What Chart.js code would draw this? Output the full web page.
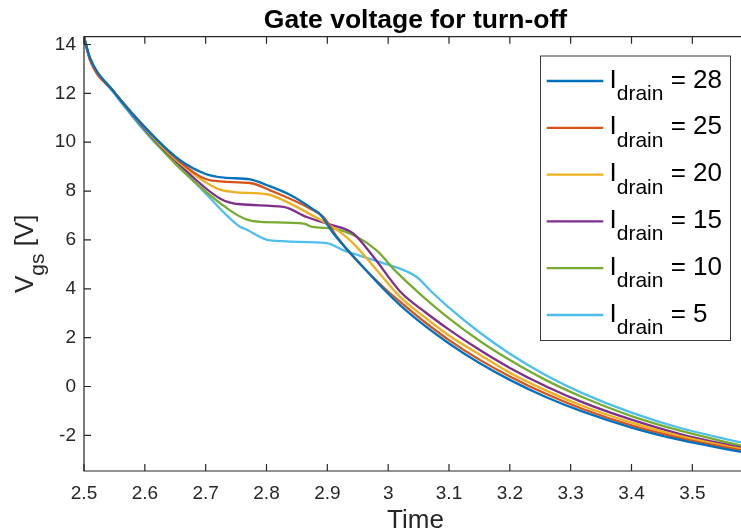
<!DOCTYPE html>
<html><head><meta charset="utf-8">
<script src="https://cdn.jsdelivr.net/npm/chart.js@4/dist/chart.umd.min.js"></script>
<style>html,body{margin:0;padding:0;background:#fff;} canvas{display:block;}</style>
</head><body>
<canvas id="c" width="741" height="532"></canvas>
<script>
// ---- data ----
const seriesLabels = ['28', '25', '20', '15', '10', '5'];
const seriesColors = ['#0072BD', '#D95319', '#EDB120', '#7E2F8E', '#77AC30', '#4DBEEE'];

const time28 = [2.5, 2.51, 2.548, 2.612, 2.658, 2.70, 2.73, 2.773, 2.80, 2.84, 2.877, 2.888, 2.91, 2.949, 2.992, 3.02, 3.06, 3.10, 3.15, 3.20, 3.26, 3.32, 3.40, 3.48, 3.58];
const vgs28  = [14.3, 13.45, 12.1, 10.3, 9.26, 8.7, 8.55, 8.48, 8.25, 7.83, 7.25, 7.05, 6.26, 5.16, 4.0, 3.32, 2.49, 1.76, 0.96, 0.27, -0.44, -1.03, -1.68, -2.19, -2.68];

const time25 = [2.5, 2.51, 2.548, 2.612, 2.658, 2.708, 2.773, 2.806, 2.872, 2.895, 2.916, 2.943, 2.998, 3.02, 3.06, 3.10, 3.15, 3.20, 3.26, 3.32, 3.40, 3.48, 3.58];
const vgs25  = [14.3, 13.35, 12.1, 10.3, 9.19, 8.44, 8.33, 8.03, 7.28, 6.9, 6.12, 5.3, 3.93, 3.46, 2.64, 1.90, 1.10, 0.41, -0.31, -0.92, -1.59, -2.11, -2.62];

const time20 = [2.5, 2.51, 2.548, 2.612, 2.658, 2.719, 2.746, 2.801, 2.828, 2.894, 2.921, 2.943, 2.98, 3.02, 3.06, 3.10, 3.15, 3.20, 3.26, 3.32, 3.40, 3.48, 3.58];
const vgs20  = [14.3, 13.4, 12.1, 10.25, 9.13, 8.1, 7.96, 7.87, 7.62, 6.74, 6.32, 5.85, 4.80, 3.66, 2.84, 2.09, 1.31, 0.56, -0.17, -0.80, -1.48, -2.03, -2.56];

const time15 = [2.5, 2.51, 2.548, 2.612, 2.658, 2.724, 2.757, 2.828, 2.866, 2.899, 2.927, 2.943, 2.976, 3.02, 3.06, 3.10, 3.15, 3.20, 3.26, 3.32, 3.40, 3.48, 3.58];
const vgs15  = [14.3, 13.4, 12.1, 10.2, 9.06, 7.69, 7.46, 7.35, 6.94, 6.67, 6.46, 6.26, 5.3, 3.88, 3.06, 2.33, 1.50, 0.76, 0.0, -0.65, -1.36, -1.95, -2.51];

const time10 = [2.5, 2.51, 2.548, 2.612, 2.658, 2.74, 2.768, 2.79, 2.861, 2.875, 2.91, 2.949, 2.981, 3.014, 3.06, 3.10, 3.15, 3.20, 3.26, 3.32, 3.40, 3.48, 3.58];
const vgs10  = [14.3, 13.4, 12.1, 10.15, 8.92, 7.21, 6.83, 6.74, 6.67, 6.53, 6.46, 6.12, 5.57, 4.68, 3.62, 2.79, 1.87, 1.08, 0.25, -0.44, -1.21, -1.81, -2.42];

const time5  = [2.5, 2.51, 2.548, 2.612, 2.664, 2.70, 2.757, 2.765, 2.806, 2.899, 2.927, 2.987, 3.047, 3.07, 3.10, 3.15, 3.20, 3.26, 3.32, 3.40, 3.48, 3.58];
const vgs5   = [14.3, 13.4, 12.05, 10.1, 8.85, 7.9, 6.53, 6.45, 5.98, 5.87, 5.57, 5.09, 4.48, 3.91, 3.23, 2.22, 1.34, 0.45, -0.28, -1.07, -1.70, -2.29];

const xTicks = [2.5, 2.6, 2.7, 2.8, 2.9, 3.0, 3.1, 3.2, 3.3, 3.4, 3.5];
const yTicks = [-2, 0, 2, 4, 6, 8, 10, 12, 14];

const titleText = 'Gate voltage for turn-off';
const xTitle = 'Time';

// ---- build chart ----
const FONT = "'Liberation Sans', Arial, Helvetica, sans-serif";
const TXT = '#262626';
const times = [time28, time25, time20, time15, time10, time5];
const values = [vgs28, vgs25, vgs20, vgs15, vgs10, vgs5];

const datasets = seriesLabels.map((lab, i) => ({
  label: lab,
  data: times[i].map((t, k) => ({x: t, y: values[i][k]})),
  borderColor: seriesColors[i],
  backgroundColor: seriesColors[i],
  borderWidth: 2.3,
  pointRadius: 0,
  fill: false,
  cubicInterpolationMode: 'monotone'
}));

function drawSub(ctx, x, y, main, sub, rest, size, subSize, shift) {
  ctx.font = size + 'px ' + FONT;
  ctx.fillText(main, x, y);
  let w = ctx.measureText(main).width;
  ctx.font = subSize + 'px ' + FONT;
  ctx.fillText(sub, x + w, y + shift);
  w += ctx.measureText(sub).width;
  ctx.font = size + 'px ' + FONT;
  ctx.fillText(rest, x + w, y);
}
function subWidth(ctx, main, sub, rest, size, subSize) {
  ctx.font = size + 'px ' + FONT;
  let w = ctx.measureText(main).width + ctx.measureText(rest).width;
  ctx.font = subSize + 'px ' + FONT;
  return w + ctx.measureText(sub).width;
}

const decor = {
  id: 'decor',
  afterDraw(chart) {
    const ctx = chart.ctx, a = chart.chartArea, xs = chart.scales.x, ys = chart.scales.y;
    ctx.save();
    // axes frame
    ctx.strokeStyle = TXT;
    ctx.lineWidth = 1.2;
    ctx.beginPath();
    ctx.moveTo(a.right + 2, a.top); ctx.lineTo(a.left, a.top);
    ctx.lineTo(a.left, a.bottom); ctx.lineTo(a.right + 2, a.bottom);
    ctx.stroke();
    // inward ticks
    ctx.beginPath();
    xTicks.forEach(v => {
      const p = xs.getPixelForValue(v);
      ctx.moveTo(p, a.bottom); ctx.lineTo(p, a.bottom - 7);
      ctx.moveTo(p, a.top); ctx.lineTo(p, a.top + 7);
    });
    yTicks.forEach(v => {
      const p = ys.getPixelForValue(v);
      ctx.moveTo(a.left, p); ctx.lineTo(a.left + 7, p);
    });
    ctx.stroke();

    ctx.fillStyle = '#000';
    ctx.textBaseline = 'alphabetic';
    // title
    ctx.textAlign = 'center';
    ctx.font = 'bold 26.5px ' + FONT;
    ctx.fillText(titleText, (a.left + a.right) / 2 + 3, 27.5);
    // x title
    ctx.fillStyle = TXT;
    ctx.font = '26px ' + FONT;
    ctx.fillText(xTitle, (a.left + a.right) / 2 + 3, 528);
    // y title
    ctx.save();
    ctx.translate(33, (a.top + a.bottom) / 2);
    ctx.rotate(-Math.PI / 2);
    ctx.textAlign = 'left';
    const yw = subWidth(ctx, 'V', 'gs', ' [V]', 26, 21);
    drawSub(ctx, -yw / 2, 0, 'V', 'gs', ' [V]', 26, 21, 11);
    ctx.restore();

    // legend
    const lx = 540.5, ly = 56, lw = 190, lh = 284.5;
    ctx.fillStyle = '#fff';
    ctx.fillRect(lx, ly, lw, lh);
    ctx.strokeStyle = '#3a3a3a';
    ctx.lineWidth = 1;
    ctx.strokeRect(lx, ly, lw, lh);
    ctx.textAlign = 'left';
    chart.data.datasets.forEach((ds, i) => {
      const yy = 81 + i * 46.8;
      ctx.strokeStyle = ds.borderColor;
      ctx.lineWidth = 2.3;
      ctx.beginPath();
      ctx.moveTo(546.7, yy); ctx.lineTo(603.3, yy);
      ctx.stroke();
      ctx.fillStyle = '#000';
      drawSub(ctx, 609.5, yy + 6.5, 'I', 'drain', ' = ' + ds.label, 26, 21, 12.5);
    });
    ctx.restore();
  }
};

new Chart(document.getElementById('c'), {
  type: 'line',
  data: {datasets},
  plugins: [decor],
  options: {
    responsive: false,
    animation: false,
    devicePixelRatio: 1,
    layout: {padding: {top: 36.7, right: 0, left: 0, bottom: 0}},
    plugins: {legend: {display: false}, title: {display: false}, tooltip: {enabled: false}},
    scales: {
      x: {
        type: 'linear',
        min: 2.5, max: 3.58,
        grid: {display: false, drawTicks: false},
        border: {display: false},
        afterBuildTicks: s => { s.ticks = xTicks.map(v => ({value: v})); },
        afterFit: s => { s.height = 61; },
        ticks: {
          padding: 11, color: TXT, maxRotation: 0, autoSkip: false,
          font: {family: FONT, size: 19},
          callback: v => String(Math.round(v * 10) / 10)
        }
      },
      y: {
        type: 'linear',
        min: -3.46, max: 14.32,
        grid: {display: false, drawTicks: false},
        border: {display: false},
        afterBuildTicks: s => { s.ticks = yTicks.map(v => ({value: v})); },
        afterFit: s => { s.width = 84; },
        ticks: {
          padding: 8, color: TXT, autoSkip: false,
          font: {family: FONT, size: 19},
          callback: v => String(v)
        }
      }
    }
  }
});
</script>
</body></html>
